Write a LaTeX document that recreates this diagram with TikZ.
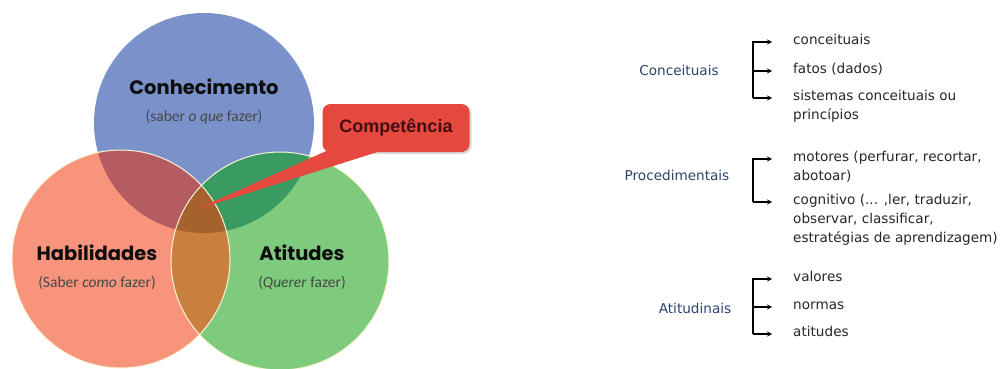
\documentclass[tikz,border=0pt]{standalone}
\usepackage{fontspec}
\setmainfont{Carlito}
\newfontfamily\headfont{Poppins}
\newfontfamily\listfont{DejaVu Sans}
\newfontfamily\calloutfont{Liberation Sans}
\usetikzlibrary{arrows,shadows}

\definecolor{vblue}{RGB}{122,146,201}
\definecolor{vred}{RGB}{248,148,124}
\definecolor{vgreen}{RGB}{126,203,126}
\definecolor{bluered}{RGB}{180,92,98}
\definecolor{bluegreen}{RGB}{58,155,98}
\definecolor{redgreen}{RGB}{200,128,62}
\definecolor{allthree}{RGB}{166,98,44}
\definecolor{calred}{RGB}{229,72,62}
\definecolor{caltext}{RGB}{66,14,16}
\definecolor{labelblue}{RGB}{44,66,108}
\definecolor{rimcol}{RGB}{250,245,215}

\newcommand{\itemtext}[1]{\begin{tabular}[t]{@{}l@{}}#1\end{tabular}}

\tikzset{
  heading/.style={
    font=\headfont\bfseries\fontsize{19.5}{21}\selectfont,
    text=black!95
    },
  subheading/.style={
    font=\fontsize{15.5}{18}\selectfont,
    text=black!72
    },
  callout/.style={
    rectangle,
    rounded corners=8pt,
    minimum width=147pt,
    minimum height=48pt,
    fill=calred,
    drop shadow={shadow xshift=2pt, shadow yshift=-2pt, opacity=0.3},
    font=\calloutfont\bfseries\fontsize{18}{20}\selectfont,
    text=caltext
    },
  grouplabel/.style={
    font=\listfont\fontsize{13.6}{19}\selectfont,
    text=labelblue
    },
  item/.style={
    anchor=mid west,
    inner sep=0pt,
    font=\listfont\fontsize{13.6}{19}\selectfont,
    text=black!85
    },
  arrow/.style={line width=1.2pt,->,>=stealth,shorten >=21pt},
  rim/.style={draw=rimcol, line width=1pt},
}

\begin{document}
\begin{tikzpicture}[x=1pt,y=-1pt]
\useasboundingbox (0,0) rectangle (1006,369);

% venn diagram
\coordinate (K) at (204,123);
\coordinate (H) at (121,259);
\coordinate (A) at (280,261);
\fill[vblue] (K) circle[radius=110pt];
\fill[vred] (H) circle[radius=109pt];
\fill[vgreen] (A) circle[radius=109pt];
\begin{scope}
  \clip (K) circle[radius=110pt];
  \fill[bluered] (H) circle[radius=109pt];
  \fill[bluegreen] (A) circle[radius=109pt];
\end{scope}
\begin{scope}
  \clip (H) circle[radius=109pt];
  \fill[redgreen] (A) circle[radius=109pt];
  \clip (A) circle[radius=109pt];
  \fill[allthree] (K) circle[radius=110pt];
\end{scope}
\draw[rim] (H) circle[radius=109pt];
\draw[rim] (A) circle[radius=109pt];

\node (know) [heading] at (204,87) {Conhecimento};
\node (knowsub) [subheading] at (204,117) {(saber \textit{o que} fazer)};
\node (skill) [heading] at (97,253) {Habilidades};
\node (skillsub) [subheading] at (97,283) {(Saber \textit{como} fazer)};
\node (att) [heading] at (302,253) {Atitudes};
\node (attsub) [subheading] at (302,283) {(\textit{Querer} fazer)};

% callout
\node (comp) [callout] at (396,128) {Competência};
\coordinate (tip) at (195,210);
\fill[calred] ([xshift=8pt,yshift=3pt]comp.south west) -- ([xshift=64pt,yshift=3pt]comp.south west) -- (tip) -- cycle;

% right list
\node (conc) [grouplabel] at (679,70) {Conceituais};
\node (c1) [item] at (793,42) {conceituais};
\node (c2) [item] at (793,71) {fatos (dados)};
\node (c3) [item] at (793,98) {\itemtext{sistemas conceituais ou\\princípios}};
\coordinate (barC) at (753,0);
\draw[arrow] (barC |- c3.mid west) |- (c1.mid west);
\draw[arrow] (barC |- c2.mid west) -- (c2.mid west);
\draw[arrow] (barC |- c3.mid west) -- (c3.mid west);

\node (proc) [grouplabel] at (677,175) {Procedimentais};
\node (p1) [item] at (793,159) {\itemtext{motores (perfurar, recortar,\\abotoar)}};
\node (p2) [item] at (793,202) {\itemtext{cognitivo (... ,ler, traduzir,\\observar, classificar,\\estratégias de aprendizagem)}};
\coordinate (barP) at (753,0);
\draw[arrow] (barP |- p2.mid west) |- (p1.mid west);
\draw[arrow] (barP |- p2.mid west) -- (p2.mid west);

\node (atit) [grouplabel] at (695,308) {Atitudinais};
\node (a1) [item] at (793,279) {valores};
\node (a2) [item] at (793,307) {normas};
\node (a3) [item] at (793,334) {atitudes};
\coordinate (barA) at (753,0);
\draw[arrow] (barA |- a3.mid west) |- (a1.mid west);
\draw[arrow] (barA |- a2.mid west) -- (a2.mid west);
\draw[arrow] (barA |- a3.mid west) -- (a3.mid west);
\end{tikzpicture}
\end{document}
